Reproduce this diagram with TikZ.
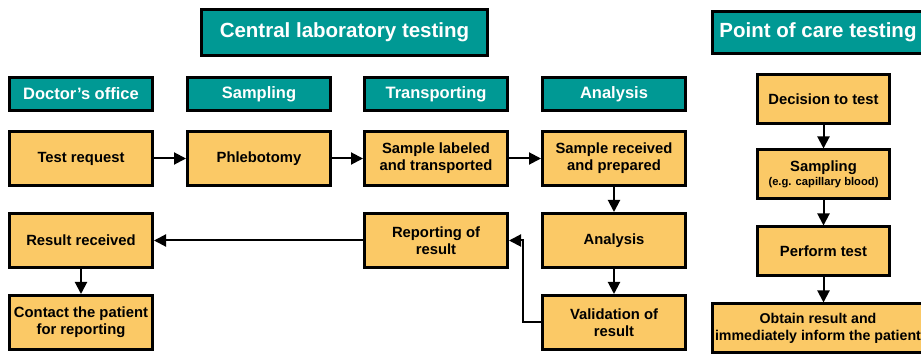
\documentclass[tikz,border=0pt]{standalone}
\usepackage{fontspec}
\setmainfont{Liberation Sans}
\usepackage{xcolor}
\usepackage{tikz}
\usetikzlibrary{arrows.meta, positioning}
\definecolor{labteal}{RGB}{0,153,148}
\definecolor{boxyellow}{RGB}{251,201,102}
\tikzset{
  title/.style={rectangle, draw=black, line width=3pt, fill=labteal,
                text=white, font=\fontsize{20.5}{24}\selectfont\bfseries,
                minimum height=46pt, inner sep=2pt},
  phase/.style={rectangle, draw=black, line width=3pt, fill=labteal,
                text=white, font=\fontsize{16.5}{19}\selectfont\bfseries,
                minimum width=143pt, minimum height=33pt, inner sep=1pt},
  task/.style={rectangle, draw=black, line width=3pt, fill=boxyellow,
               align=center, font=\fontsize{14.8}{17}\selectfont\bfseries,
               minimum width=143pt, minimum height=54pt, inner sep=1pt},
  poctask/.style={task, minimum width=132pt, minimum height=49pt},
  arrow/.style={-{Triangle[length=12pt, width=12pt]}, line width=2pt, draw=black},
}
\begin{document}
\begin{tikzpicture}[x=1pt, y=-1pt]
  \useasboundingbox (0,0) rectangle (921,355);

  % --- Titles ---
  \node[title, minimum width=286pt] (central) at (344.5,32.5) {Central laboratory testing};
  \node[title, minimum width=211pt, minimum height=42pt] (poc) at (818,32.5) {Point of care testing};

  % --- Phases ---
  \node[phase] (office) at (81,94) {Doctor’s office};
  \node[phase, right=32pt of office] (sampling) {Sampling};
  \node[phase, right=31pt of sampling] (transport) {Transporting};
  \node[phase, right=32pt of transport] (analysis) {Analysis};

  % --- Central laboratory steps ---
  \node[task, below=18pt of office] (request) {Test request};
  \node[task, below=18pt of sampling] (phlebo) {Phlebotomy};
  \node[task, below=18pt of transport] (labeled) {Sample labeled\\and transported};
  \node[task, below=18pt of analysis] (received) {Sample received\\and prepared};
  \node[task, below=25pt of received] (analyse) {Analysis};
  \node[task, below=25pt of analyse] (valid) {Validation of\\result};
  \node[task, below=25pt of labeled] (report) {Reporting of\\result};
  \node[task, below=25pt of request] (result) {Result received};
  \node[task, below=25pt of result] (contact) {Contact the patient\\for reporting};

  % --- Point of care steps ---
  \node[poctask] (decide) at (823.5,99.5) {Decision to test};
  \node[poctask, below=23pt of decide] (capill)
    {Sampling\\[-3pt]{\fontsize{11.2}{13}\selectfont (e.g. capillary blood)}};
  \node[poctask, below=25pt of capill] (perform) {Perform test};
  \node[poctask, below=25pt of perform, xshift=-5.5pt, minimum width=211pt, minimum height=48pt,
        font=\fontsize{14.2}{17}\selectfont\bfseries] (inform)
    {Obtain result and\\immediately inform the patient};

  % --- Edges ---
  \draw[arrow] (request) -- (phlebo);
  \draw[arrow] (phlebo) -- (labeled);
  \draw[arrow] (labeled) -- (received);
  \draw[arrow] (received) -- (analyse);
  \draw[arrow] (analyse) -- (valid);
  \draw[arrow] (valid.west) -- ++(-18pt,0) |- (report.east);
  \draw[arrow] (report) -- (result);
  \draw[arrow] (result) -- (contact);

  \draw[arrow] (decide) -- (capill);
  \draw[arrow] (capill) -- (perform);
  \draw[arrow] (perform.south) -- (perform.south |- inform.north);

\end{tikzpicture}
\end{document}
